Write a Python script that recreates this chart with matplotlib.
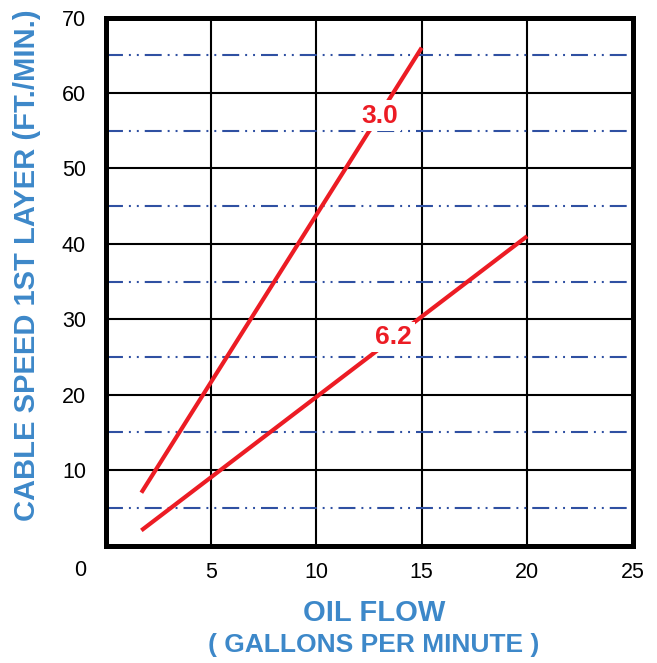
import matplotlib
matplotlib.use("Agg")
import matplotlib.pyplot as plt

plt.rcParams['font.family'] = ['Liberation Sans', 'DejaVu Sans']
plt.rcParams['lines.scale_dashes'] = False

# Data
flow_30 = [1.7, 15]
speed_30 = [7, 66]
flow_62 = [1.7, 20]
speed_62 = [2, 41]
label_30 = "3.0"
label_62 = "6.2"
label_30_pos = (13.0, 57.0)
label_62_pos = (13.65, 27.6)
x_ticks = [5, 10, 15, 20, 25]
y_ticks = [10, 20, 30, 40, 50, 60, 70]
solid_y = [10, 20, 30, 40, 50, 60]
dashdot_y = [5, 15, 25, 35, 45, 55, 65]
vert_x = [5, 10, 15, 20]

W, H = 657, 663
fig = plt.figure(figsize=(W / 100, H / 100), dpi=100)
ax = fig.add_axes([105.5 / W, (H - 545.5) / H, 527 / W, 528 / H])
ax.set_xlim(0, 25)
ax.set_ylim(0, 70)

red = '#ec1c24'
blue_lbl = '#3d88c9'
grid_blue = '#2f50a2'

for y in solid_y:
    ax.axhline(y, color='black', lw=1.5, zorder=1)
for x in vert_x:
    ax.axvline(x, color='black', lw=1.5, zorder=1)
for y in dashdot_y:
    ax.axhline(y, color=grid_blue, lw=1.5,
               linestyle=(0, (12.2, 4.3, 1.4, 4.3, 1.4, 4.3)), zorder=1)

ax.plot(flow_30, speed_30, color=red, lw=3.0, solid_capstyle='butt', zorder=3)
ax.plot(flow_62, speed_62, color=red, lw=3.0, solid_capstyle='butt', zorder=3)

for lbl, pos in ((label_30, label_30_pos), (label_62, label_62_pos)):
    ax.text(pos[0], pos[1], lbl, color=red, fontsize=19, fontweight='bold',
            ha='center', va='center', zorder=4,
            bbox=dict(boxstyle='square,pad=0.12', fc='white', ec='none'))

for s in ax.spines.values():
    s.set_linewidth(3.6)
    s.set_zorder(5)

ax.set_xticks(x_ticks)
ax.set_yticks(y_ticks)
ax.tick_params(length=0, labelsize=15.5, colors='black')
ax.tick_params(axis='y', pad=14)
ax.tick_params(axis='x', pad=12)

fig.text(80 / W, 1 - 570 / H, "0", fontsize=15.5, ha='center', va='center')

fig.text(374 / W, 1 - 613 / H, "OIL FLOW", color=blue_lbl, fontsize=21,
         fontweight='bold', ha='center', va='center')
fig.text(374 / W, 1 - 645 / H, "( GALLONS PER MINUTE )", color=blue_lbl,
         fontsize=19, fontweight='bold', ha='center', va='center')
fig.text(27 / W, 1 - 265 / H, "CABLE SPEED 1ST LAYER (FT./MIN.)", color=blue_lbl,
         fontsize=21, fontweight='bold', ha='center', va='center', rotation=90)

fig.savefig("out.png", dpi=100)
